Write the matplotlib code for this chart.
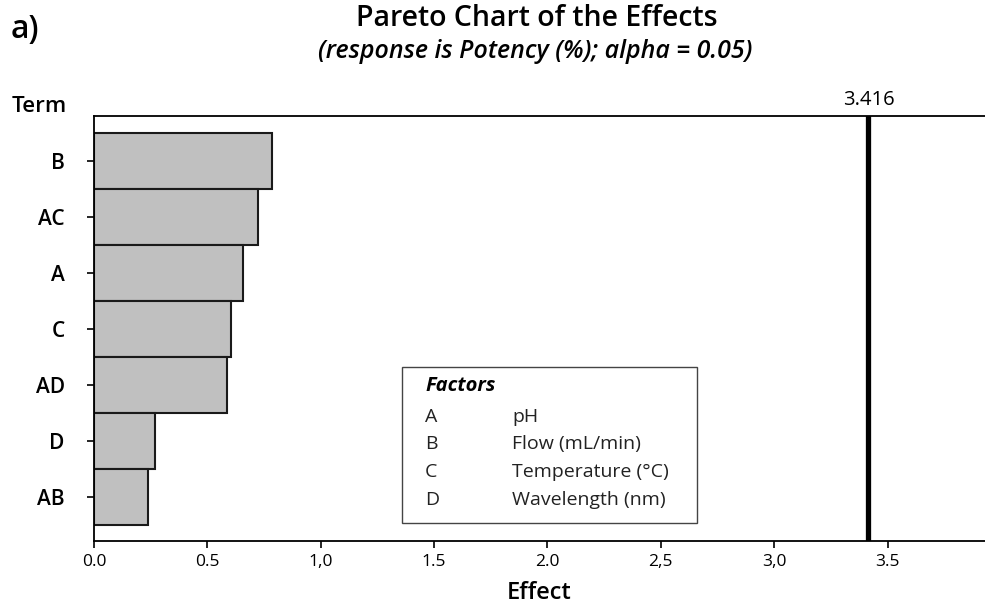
import matplotlib
matplotlib.use("Agg")
import matplotlib.pyplot as plt
from matplotlib.patches import Rectangle

plt.rcParams['font.family'] = ['Open Sans', 'DejaVu Sans']

terms = ["B", "AC", "A", "C", "AD", "D", "AB"]
effects = [0.783, 0.725, 0.659, 0.603, 0.587, 0.270, 0.237]
critical = 3.416
xticks = [0.0, 0.5, 1.0, 1.5, 2.0, 2.5, 3.0, 3.5]
xticklabels = ["0.0", "0.5", "1,0", "1.5", "2.0", "2,5", "3,0", "3.5"]
factor_codes = ["A", "B", "C", "D"]
factor_names = ["pH", "Flow (mL/min)", "Temperature (°C)", "Wavelength (nm)"]

fig = plt.figure(figsize=(9.85, 6.1), dpi=100)
ax = fig.add_axes([94/985, 1-541/610, 1-94/985, (541-116)/610])

ypos = list(range(len(terms)))
ax.barh(ypos, effects, height=1.0, color="#c0c0c0", edgecolor="#1a1a1a", linewidth=1.5, align="center")
ax.set_ylim(6.5 + 16/56, -0.5 - 17/56)
ax.set_xlim(0, 3.93)
ax.axvline(critical, color="black", linewidth=3.8)
ax.text(critical, 1.013, f"{critical:.3f}", transform=ax.get_xaxis_transform(), ha="center", va="bottom", fontsize=14.5)

ax.set_yticks(ypos)
ax.set_yticklabels(terms, fontsize=15, fontweight="semibold")
ax.set_xticks(xticks)
ax.set_xticklabels(xticklabels, fontsize=12.5)
ax.tick_params(axis="both", direction="out", length=5, width=1.2, colors="black")
ax.tick_params(axis="y", pad=16)
ax.tick_params(axis="x", pad=4)
for s in ["left", "top", "bottom"]:
    ax.spines[s].set_linewidth(1.3)
ax.spines["right"].set_visible(False)
ax.set_xlabel("Effect", fontsize=17, fontweight="semibold", labelpad=8)

fig.text(11/985, 1-29/610, "a)", fontsize=23, fontweight="semibold", ha="left", va="center")
fig.text(537/985, 1-19/610, "Pareto Chart of the Effects", fontsize=20.5, fontweight="semibold", ha="center", va="center")
fig.text(535/985, 1-52/610, "(response is Potency (%); alpha = 0.05)", fontsize=18, fontweight="semibold", style="italic", ha="center", va="center")
fig.text(12/985, 1-107/610, "Term", fontsize=16, fontweight="semibold", ha="left", va="center")

# Factor legend box
box = Rectangle((402/985, 1-523/610), (697-402)/985, (523-367)/610, transform=fig.transFigure,
                facecolor="white", edgecolor="#444444", linewidth=1.0)
fig.patches.append(box)
fig.text(425/985, 1-386/610, "Factors", fontsize=14.5, fontweight="bold", style="italic", ha="left", va="center")
for i, (c, n) in enumerate(zip(factor_codes, factor_names)):
    y = 1 - (416.5 + 27.8*i)/610
    fig.text(425/985, y, c, fontsize=14, ha="left", va="center", color="#222222")
    fig.text(512/985, y, n, fontsize=14, ha="left", va="center", color="#222222")

fig.savefig("out.png", dpi=100)
